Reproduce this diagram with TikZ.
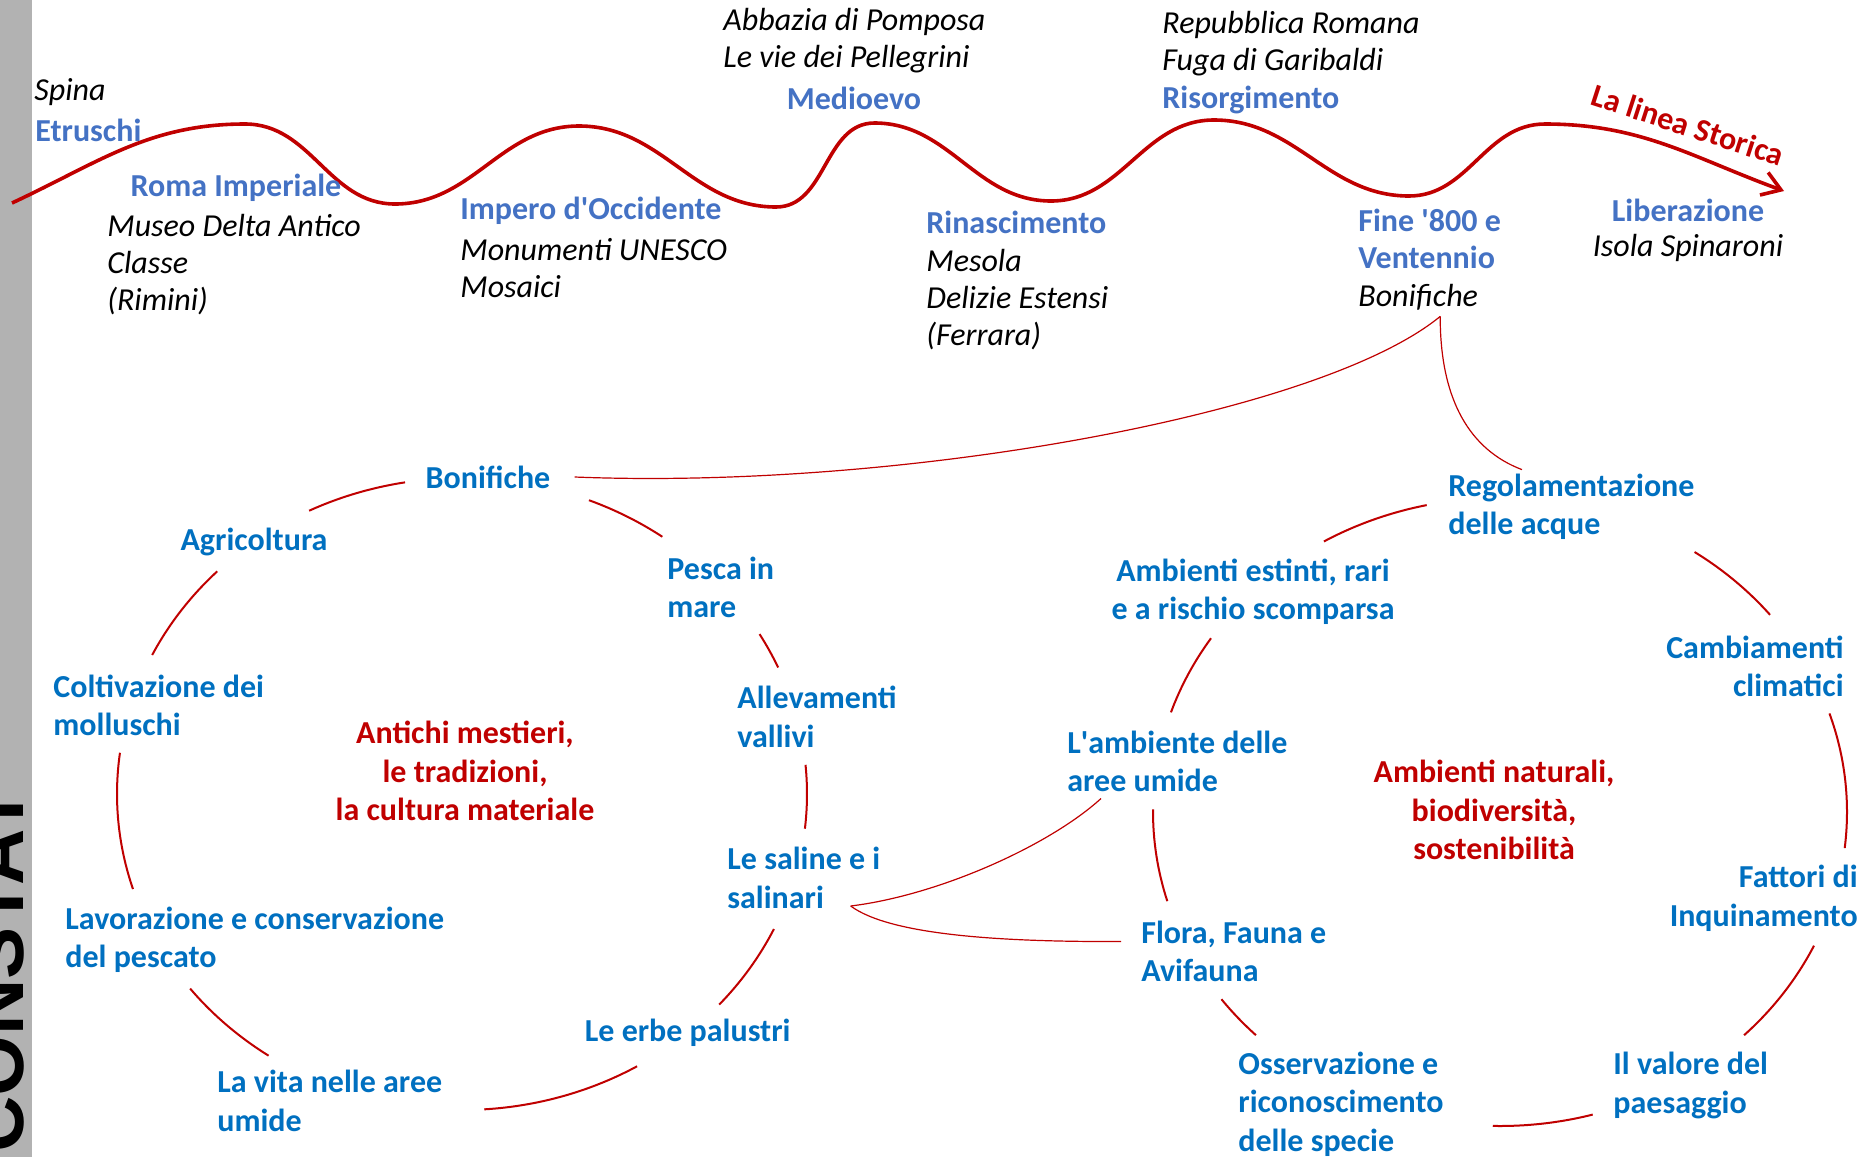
\documentclass[tikz,border=0pt]{standalone}
\usepackage{fontspec}
\setmainfont{Carlito}
\newfontfamily\barrafont{Liberation Sans}
\usetikzlibrary{arrows.meta}
\definecolor{bluepoca}{HTML}{4472C4}
\definecolor{blutema}{HTML}{0070C0}
\definecolor{rossolinea}{HTML}{C00000}
\definecolor{grigiobarra}{HTML}{B2B2B2}
\tikzset{
    %Define standard arrow tip
    >={Straight Barb[length=9pt,width=12pt]},
    %Define styles for the texts
    epoca/.style={
           text=bluepoca,
           font=\fontsize{16}{18.5}\selectfont\bfseries,
           inner sep=0pt,
           align=left},
    luoghi/.style={
           font=\fontsize{16}{18.5}\selectfont\itshape,
           inner sep=0pt,
           align=left},
    tema/.style={
           text=blutema,
           font=\fontsize{16}{19.25}\selectfont\bfseries,
           inner sep=0pt,
           align=left},
    nucleo/.style={
           text=rossolinea,
           font=\fontsize{16}{19.25}\selectfont\bfseries,
           inner sep=0pt,
           align=center},
    % Define line styles
    linea/.style={
           ->,
           draw=rossolinea,
           line width=1.8pt},
    arco/.style={
           draw=rossolinea,
           line width=1pt},
    ramo/.style={
           draw=rossolinea,
           line width=0.6pt},
    anelloA/.style={x radius=345, y radius=316},
    anelloB/.style={x radius=347, y radius=314}
}

\begin{document}
\begin{tikzpicture}[x=0.5pt, y=0.5pt]

\fill[white] (0,0) rectangle (1866,-1157);
\useasboundingbox (0,0) rectangle (1866,-1157);

%side bar
\fill[grigiobarra] (0,0) rectangle (32,-1157);
\begin{scope}
\clip (0,0) rectangle (32,-1157);
\node[rotate=90, anchor=base, inner sep=0pt,
  font=\barrafont\fontsize{39}{39}\selectfont\bfseries] (constat) at (23,-970) {CONSTAT};
\end{scope}

%the timeline
\draw[linea] (12,-203) to[out=25,in=180] (245,-124) to[out=0,in=180] (395,-204)
  to[out=0,in=180] (579,-126) to[out=0,in=180] (776,-207) to[out=0,in=180] (874.5,-123)
  to[out=0,in=180] (1051,-201) to[out=0,in=180] (1214,-120) to[out=0,in=180] (1409,-196)
  to[out=0,in=180] (1545,-124) to[out=0,in=160] (1784,-191);
\node[nucleo, rotate=-18] (titolo) at (1688,-125) {La linea Storica};

\node[luoghi, anchor=west] (spina) at (34,-92) {Spina};
\node[epoca, anchor=west] (etruschi) at (35,-130) {Etruschi};
\node[epoca] (romaimp) at (236,-188) {Roma Imperiale};
\node[luoghi, anchor=west] (romaluoghi) at (107,-265) {Museo Delta Antico\\Classe\\(Rimini)};
\node[epoca, anchor=west] (impero) at (460,-211) {Impero d\textquotesingle Occidente};
\node[luoghi, anchor=west] (imperoluoghi) at (460,-268.5) {Monumenti UNESCO\\Mosaici};
\node[luoghi, anchor=west] (medioluoghi) at (723,-41) {Abbazia di Pomposa\\Le vie dei Pellegrini};
\node[epoca] (medioevo) at (854,-98) {Medioevo};
\node[epoca, anchor=west] (rinasc) at (926,-222) {Rinascimento};
\node[luoghi, anchor=west] (rinascluoghi) at (926,-299.5) {Mesola\\Delizie Estensi\\(Ferrara)};
\node[luoghi, anchor=west] (risorgluoghi) at (1162,-43.5) {Repubblica Romana\\Fuga di Garibaldi};
\node[epoca, anchor=west] (risorg) at (1162,-100) {Risorgimento};
\node[epoca, anchor=west] (fine800) at (1358,-238.5) {Fine \textquotesingle 800 e\\Ventennio};
\node[luoghi, anchor=west] (bonific) at (1358,-297) {Bonifiche};
\node[epoca] (liberaz) at (1688,-210) {Liberazione};
\node[luoghi] (spinaroni) at (1688,-248) {Isola Spinaroni};

%left cycle
\coordinate (anello1) at (462,-794);
\node[tema] (bonifiche) at (488,-477) {Bonifiche};
\node[tema] (agricoltura) at (254,-541.5) {Agricoltura};
\node[tema, anchor=west] (pescamare) at (667,-587.5) {Pesca in\\mare};
\node[tema, anchor=west] (coltivazione) at (53,-705.5) {Coltivazione dei\\molluschi};
\node[tema, anchor=west] (allevamenti) at (737,-717) {Allevamenti\\vallivi};
\node[nucleo] (mestieri) at (465,-771) {Antichi mestieri,\\le tradizioni,\\la cultura materiale};
\node[tema, anchor=west] (saline) at (727,-878) {Le saline e i\\salinari};
\node[tema, anchor=west] (lavorazione) at (65,-940) {Lavorazione e conservazione\\del pescato};
\node[tema, anchor=west] (erbe) at (584.5,-1033) {Le erbe palustri};
\node[tema, anchor=west] (vita) at (217,-1101) {La vita nelle aree\\umide};

\draw[arco] (anello1) ++(99.5:345 and 316) arc[anelloA, start angle=99.5, end angle=116.3];
\draw[arco] (anello1) ++(54.5:345 and 316) arc[anelloA, start angle=54.5, end angle=68.4];
\draw[arco] (anello1) ++(135.2:345 and 316) arc[anelloA, start angle=135.2, end angle=153.9];
\draw[arco] (anello1) ++(23.6:345 and 316) arc[anelloA, start angle=23.6, end angle=30.4];
\draw[arco] (anello1) ++(172.5:345 and 316) arc[anelloA, start angle=172.5, end angle=197.5];
\draw[arco] (anello1) ++(-6.3:345 and 316) arc[anelloA, start angle=-6.3, end angle=5.3];
\draw[arco] (anello1) ++(218:345 and 316) arc[anelloA, start angle=218, end angle=235.9];
\draw[arco] (anello1) ++(-41.8:345 and 316) arc[anelloA, start angle=-41.8, end angle=-25.3];
\draw[arco] (anello1) ++(-86.3:345 and 316) arc[anelloA, start angle=-86.3, end angle=-59.5];

%right cycle
\coordinate (anello2) at (1500,-812);
\node[tema, anchor=west] (regolamentazione) at (1448,-507) {Regolamentazione\\delle acque};
\node[tema, align=center] (estinti) at (1253,-592) {Ambienti estinti, rari\\e a rischio scomparsa};
\node[tema, anchor=east, align=right] (cambiamenti) at (1844,-666.5) {Cambiamenti\\climatici};
\node[tema, anchor=west] (umide) at (1067,-761.5) {L\textquotesingle ambiente delle\\aree umide};
\node[nucleo] (naturali) at (1494,-810) {Ambienti naturali,\\biodiversità,\\sostenibilità};
\node[tema, anchor=east, align=right] (fattori) at (1858,-898.5) {Fattori di\\Inquinamento};
\node[tema, anchor=west] (flora) at (1141,-951.5) {Flora, Fauna e\\Avifauna};
\node[tema, anchor=west] (osservazione) at (1238,-1104) {Osservazione e\\riconoscimento\\delle specie};
\node[tema, anchor=west] (valore) at (1613,-1085.5) {Il valore del\\paesaggio};

\draw[arco] (anello2) ++(102.2:347 and 314) arc[anelloB, start angle=102.2, end angle=120.5];
\draw[arco] (anello2) ++(38.9:347 and 314) arc[anelloB, start angle=38.9, end angle=55.9];
\draw[arco] (anello2) ++(146.4:347 and 314) arc[anelloB, start angle=146.4, end angle=161.5];
\draw[arco] (anello2) ++(-6.6:347 and 314) arc[anelloB, start angle=-6.6, end angle=18.3];
\draw[arco] (anello2) ++(179.5:347 and 314) arc[anelloB, start angle=179.5, end angle=196.5];
\draw[arco] (anello2) ++(-45.3:347 and 314) arc[anelloB, start angle=-45.3, end angle=-25.2];
\draw[arco] (anello2) ++(216.6:347 and 314) arc[anelloB, start angle=216.6, end angle=225.3];
\draw[arco] (anello2) ++(-91.2:347 and 314) arc[anelloB, start angle=-91.2, end angle=-74.5];

%links between the parts
\coordinate (radice) at ([xshift=11pt,yshift=-3pt]bonific.south);
\draw[ramo] ([xshift=12pt]bonifiche.east) .. controls (900,-490) and (1320,-415) .. (radice);
\draw[ramo] (radice) .. controls (1440,-400) and (1470,-450) .. ([xshift=37pt,yshift=2pt]regolamentazione.north west);
\draw[ramo] ([xshift=-15pt,yshift=-14pt]saline.east) .. controls (940,-895) and (1050,-845) .. ([xshift=17pt,yshift=-3pt]umide.south west);
\draw[ramo] ([xshift=-15pt,yshift=-14pt]saline.east) .. controls (890,-935) and (1000,-942) .. ([xshift=-10pt,yshift=5pt]flora.west);

\end{tikzpicture}
\end{document}
